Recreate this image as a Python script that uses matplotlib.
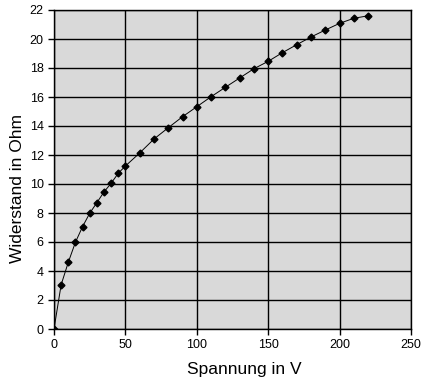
import matplotlib
matplotlib.use("Agg")
import matplotlib.pyplot as plt

spannung = [0, 5, 10, 15, 20, 25, 30, 35, 40, 45, 50, 60, 70, 80, 90, 100,
            110, 120, 130, 140, 150, 160, 170, 180, 190, 200, 210, 220]
widerstand = [0.0, 3.05, 4.6, 5.98, 7.06, 7.98, 8.71, 9.45, 10.05, 10.74, 11.24,
              12.14, 13.1, 13.88, 14.64, 15.33, 16.02, 16.67, 17.31, 17.95,
              18.46, 19.06, 19.61, 20.14, 20.62, 21.08, 21.43, 21.6]
xticks = [0, 50, 100, 150, 200, 250]
yticks = list(range(0, 23, 2))

plt.rcParams['font.family'] = ['Liberation Sans', 'DejaVu Sans']

fig = plt.figure(figsize=(4.28, 3.82), dpi=100)
ax = fig.add_axes([54/428, 1-329/382, (411-54)/428, (329-10)/382])
ax.set_facecolor('#d9d9d9')
ax.plot(spannung, widerstand, color='black', lw=0.7, marker='D', ms=3.5,
        mfc='black', mec='black')
ax.set_xlim(0, 250)
ax.set_ylim(0, 22)
ax.set_xticks(xticks)
ax.set_yticks(yticks)
ax.grid(True, color='black', lw=1)
ax.set_axisbelow(True)
for s in ax.spines.values():
    s.set_color('black')
    s.set_linewidth(1)
ax.tick_params(direction='out', length=4, width=1, labelsize=9, colors='black')
ax.set_xlabel('Spannung in V', fontsize=12.5)
ax.set_ylabel('Widerstand in Ohm', fontsize=12.5)
ax.xaxis.set_label_coords(0.532, -0.102)
ax.yaxis.set_label_coords(-0.08, 0.442)
fig.savefig('out.png', dpi=100)
